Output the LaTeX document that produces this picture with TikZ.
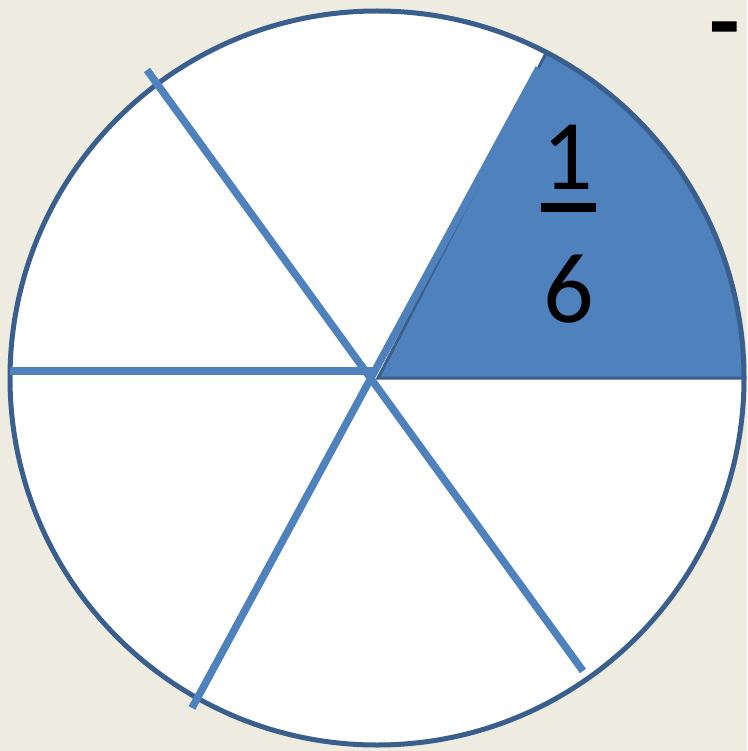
\documentclass[tikz,border=0pt]{standalone}
\usepackage{fontspec}
\setmainfont{Carlito}
\definecolor{bgc}{HTML}{EEECE1}
\definecolor{acc}{HTML}{4F81BD}
\definecolor{dkb}{HTML}{3A5F8C}
\begin{document}
\begin{tikzpicture}[x=1pt,y=-1pt,
  spoke/.style={draw=acc,line width=7.5pt},
  rim/.style={draw=dkb,line width=5pt},
  bigtxt/.style={inner sep=0pt,font=\fontsize{100}{100}\selectfont}]
\useasboundingbox (0,0) rectangle (747,751);
\fill[bgc] (0,0) rectangle (747,751);
\coordinate (c) at (377,378);
\fill[white] (c) circle[radius=367];
% shaded sector
\filldraw[fill=acc,draw=dkb,line width=3pt] (378,378) -- (744,378) arc[start angle=0,end angle=-62.5,radius=367] -- cycle;
% spokes
\coordinate (h1) at (10,371);
\coordinate (h2) at (374,371);
\coordinate (a1) at (147,70);
\coordinate (a2) at (583,671);
\coordinate (b1) at (192,708);
\coordinate (b2) at (539,68);
\draw[rim] (c) circle[radius=367];
\draw[spoke] (h1) -- (h2);
\draw[spoke] (a1) -- (a2);
\draw[spoke] (b1) -- (b2);
% fraction
\node[bigtxt,anchor=base] (one) at (568,190) {1};
\coordinate (u1) at (541,207.5);
\coordinate (u2) at (596,207.5);
\draw[black,line width=9pt] (u1) -- (u2);
\node[bigtxt,anchor=base] (six) at (569,322) {6};
% dash
\node[inner sep=0pt,font=\fontsize{100}{100}\selectfont\bfseries] (dash) at (724.5,39) {-};
\end{tikzpicture}
\end{document}
